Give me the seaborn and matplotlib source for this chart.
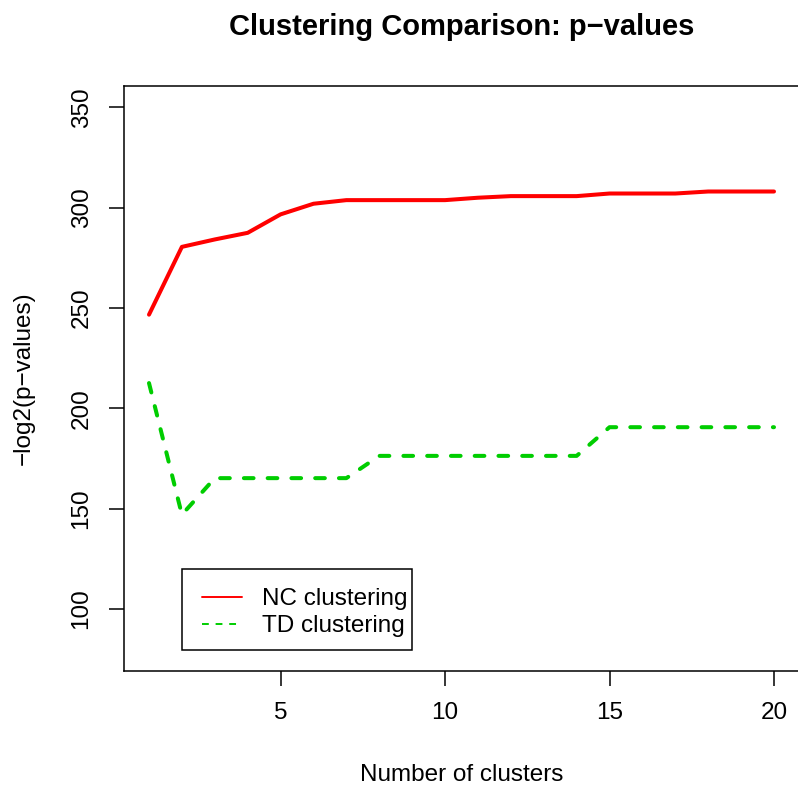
import numpy as np
import pandas as pd
import seaborn as sns
import matplotlib
matplotlib.use("Agg")
import matplotlib.pyplot as plt
from matplotlib.lines import Line2D
from matplotlib.patches import Rectangle

clusters = list(range(1, 21))
nc_values = [246.7, 280.5, 284.2, 287.5, 296.7, 302.0, 303.8, 303.8, 303.8, 303.8,
             305.0, 305.8, 305.8, 305.8, 307.1, 307.1, 307.1, 308.1, 308.1, 308.1]
td_values = [212.6, 147.0, 165.2, 165.2, 165.2, 165.2, 165.2, 176.3, 176.3, 176.3,
             176.3, 176.3, 176.3, 176.3, 190.6, 190.6, 190.6, 190.6, 190.6, 190.6]
series_names = ["NC clustering", "TD clustering"]
series_colors = ["#FF0000", "#00CD00"]
x_ticks = [5, 10, 15, 20]
y_ticks = [100, 150, 200, 250, 300, 350]

df = pd.DataFrame({
    "clusters": clusters * 2,
    "value": nc_values + td_values,
    "series": [series_names[0]] * len(clusters) + [series_names[1]] * len(clusters),
})

sns.set_style("white")
plt.rcParams["font.family"] = ["Liberation Sans", "DejaVu Sans"]
plt.rcParams["text.color"] = "black"
plt.rcParams["axes.labelcolor"] = "black"
plt.rcParams["xtick.color"] = "black"
plt.rcParams["ytick.color"] = "black"

W, H = 798, 787
fig = plt.figure(figsize=(W / 100, H / 100), dpi=100)
ax_l, ax_r, ax_t, ax_b = 124, 799, 85.8, 670.7
ax = fig.add_axes([ax_l / W, 1 - ax_b / H, (ax_r - ax_l) / W, (ax_b - ax_t) / H])

sns.lineplot(data=df, x="clusters", y="value", hue="series", style="series",
             palette=dict(zip(series_names, series_colors)),
             dashes={series_names[0]: "", series_names[1]: (2.4, 3.5)},
             linewidth=2.9, legend=False, ax=ax)
for ln in ax.lines:
    ln.set_dash_capstyle("round")
    ln.set_solid_capstyle("round")
    ln.set_solid_joinstyle("round")
    ln.set_dash_joinstyle("round")

ax.set_xlim(0.24, 20.76)
ax.set_ylim(69.2, 360.8)
ax.set_xticks(x_ticks)
ax.set_yticks(y_ticks)
ax.tick_params(axis="both", which="major", direction="out", length=10.6, width=1.1,
               color="black", labelsize=17.5, labelcolor="black", pad=12, bottom=True, left=True)
for lab in ax.get_yticklabels():
    lab.set_rotation(90)
    lab.set_va("center")
for side in ["left", "bottom", "top"]:
    ax.spines[side].set_visible(True)
    ax.spines[side].set_color("black")
    ax.spines[side].set_linewidth(1.1)
ax.spines["right"].set_visible(False)

ax.set_xlabel("")
ax.set_ylabel("")
fig.text(461.5 / W, 1 - 775 / H, "Number of clusters", ha="center", va="center",
         fontsize=17.5, color="black")
fig.text(24 / W, 1 - 378 / H, "\u2212log2(p\u2212values)", ha="center", va="center",
         rotation=90, fontsize=17.5, color="black")
fig.text(461.5 / W, 1 - 35 / H, "Clustering Comparison: p\u2212values", ha="center",
         va="baseline", fontsize=21, fontweight="bold", color="black")

# legend frame and entries
fx = lambda px: (px - ax_l) / (ax_r - ax_l)
fy = lambda py: (ax_b - py) / (ax_b - ax_t)
ax.add_patch(Rectangle((fx(182), fy(650)), fx(412) - fx(182), fy(569) - fy(650),
                       transform=ax.transAxes, fill=False, edgecolor="black",
                       linewidth=1.1, zorder=5, clip_on=False))
handles = [
    Line2D([], [], color=series_colors[0], lw=1.4),
    Line2D([], [], color=series_colors[1], lw=1.4, dashes=(3.5, 3.5)),
]
leg = ax.legend(handles, series_names, loc="upper left", bbox_to_anchor=(fx(202), fy(588)),
                frameon=False, borderpad=0, borderaxespad=0, handlelength=1.65,
                handletextpad=0.82, labelspacing=0.22, fontsize=17.5)
for t in leg.get_texts():
    t.set_color("black")

fig.savefig("out.png", dpi=100)
